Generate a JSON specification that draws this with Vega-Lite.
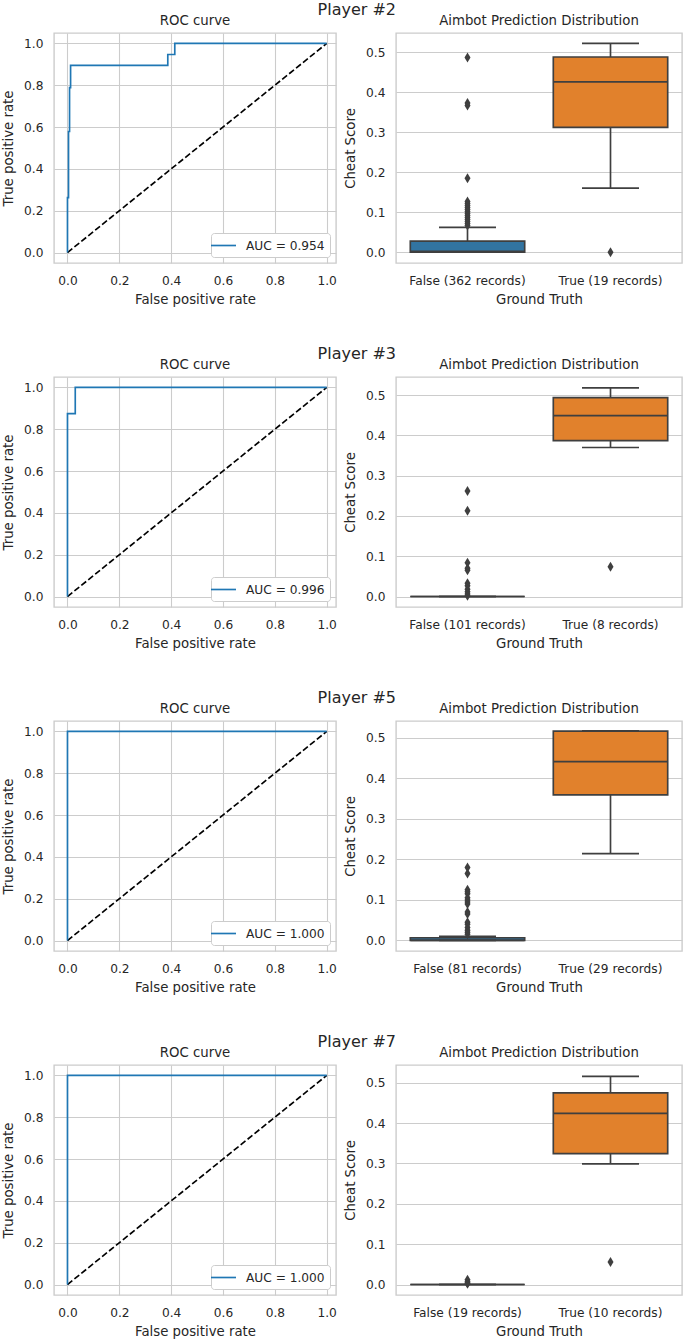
{
  "$schema": "https://vega.github.io/schema/vega-lite/v6.json",
  "background": "white",
  "padding": {"left": 0, "top": 2, "right": 0, "bottom": 0},
  "config": {
    "font": "DejaVu Sans",
    "view": {"stroke": "#cccccc", "strokeWidth": 1.4},
    "axis": {"labelFontSize": 12.2, "labelColor": "#262626", "titleFontSize": 13.3, "titleColor": "#262626", "titleFontWeight": "normal", "gridColor": "#cccccc", "gridWidth": 1.1, "domain": false, "ticks": false, "labelPadding": 11, "titlePadding": 8},
    "axisX": {"titlePadding": 6},
    "title": {"fontSize": 13.3, "fontWeight": "normal", "color": "#262626", "offset": 6},
    "legend": {"title": null, "orient": "bottom-right", "offset": 6, "fillColor": "white", "strokeColor": "#cccccc", "cornerRadius": 3, "padding": 5, "symbolType": "M-2,0L2,0", "symbolSize": 156, "symbolStrokeWidth": 1.67, "labelFontSize": 12.2, "labelColor": "#262626", "labelOffset": 15}
  },
  "datasets": {
    "diag": [{"fpr": 0, "tpr": 0}, {"fpr": 1, "tpr": 1}],
    "roc": [
      {"p": "2", "i": 0, "fpr": 0, "tpr": 0, "label": "AUC = 0.954"},
      {"p": "2", "i": 1, "fpr": 0, "tpr": 0.263, "label": "AUC = 0.954"},
      {"p": "2", "i": 2, "fpr": 0.004, "tpr": 0.263, "label": "AUC = 0.954"},
      {"p": "2", "i": 3, "fpr": 0.004, "tpr": 0.579, "label": "AUC = 0.954"},
      {"p": "2", "i": 4, "fpr": 0.008, "tpr": 0.579, "label": "AUC = 0.954"},
      {"p": "2", "i": 5, "fpr": 0.008, "tpr": 0.789, "label": "AUC = 0.954"},
      {"p": "2", "i": 6, "fpr": 0.012, "tpr": 0.789, "label": "AUC = 0.954"},
      {"p": "2", "i": 7, "fpr": 0.012, "tpr": 0.895, "label": "AUC = 0.954"},
      {"p": "2", "i": 8, "fpr": 0.387, "tpr": 0.895, "label": "AUC = 0.954"},
      {"p": "2", "i": 9, "fpr": 0.387, "tpr": 0.947, "label": "AUC = 0.954"},
      {"p": "2", "i": 10, "fpr": 0.414, "tpr": 0.947, "label": "AUC = 0.954"},
      {"p": "2", "i": 11, "fpr": 0.414, "tpr": 1.0, "label": "AUC = 0.954"},
      {"p": "2", "i": 12, "fpr": 1.0, "tpr": 1.0, "label": "AUC = 0.954"},
      {"p": "3", "i": 0, "fpr": 0, "tpr": 0, "label": "AUC = 0.996"},
      {"p": "3", "i": 1, "fpr": 0, "tpr": 0.875, "label": "AUC = 0.996"},
      {"p": "3", "i": 2, "fpr": 0.03, "tpr": 0.875, "label": "AUC = 0.996"},
      {"p": "3", "i": 3, "fpr": 0.03, "tpr": 1.0, "label": "AUC = 0.996"},
      {"p": "3", "i": 4, "fpr": 1.0, "tpr": 1.0, "label": "AUC = 0.996"},
      {"p": "5", "i": 0, "fpr": 0, "tpr": 0, "label": "AUC = 1.000"},
      {"p": "5", "i": 1, "fpr": 0, "tpr": 1.0, "label": "AUC = 1.000"},
      {"p": "5", "i": 2, "fpr": 1.0, "tpr": 1.0, "label": "AUC = 1.000"},
      {"p": "7", "i": 0, "fpr": 0, "tpr": 0, "label": "AUC = 1.000"},
      {"p": "7", "i": 1, "fpr": 0, "tpr": 1.0, "label": "AUC = 1.000"},
      {"p": "7", "i": 2, "fpr": 1.0, "tpr": 1.0, "label": "AUC = 1.000"}
    ],
    "box": [
      {"p": "2", "gt": "False", "xl": "False (362 records)", "lo": 0, "q1": 0, "med": 0.002, "q3": 0.0275, "hi": 0.062},
      {"p": "2", "gt": "True", "xl": "True (19 records)", "lo": 0.16, "q1": 0.312, "med": 0.426, "q3": 0.488, "hi": 0.522},
      {"p": "3", "gt": "False", "xl": "False (101 records)", "lo": 0, "q1": 0, "med": 0, "q3": 0, "hi": 0},
      {"p": "3", "gt": "True", "xl": "True (8 records)", "lo": 0.37, "q1": 0.387, "med": 0.449, "q3": 0.494, "hi": 0.518},
      {"p": "5", "gt": "False", "xl": "False (81 records)", "lo": 0, "q1": 0, "med": 0, "q3": 0.0066, "hi": 0.01},
      {"p": "5", "gt": "True", "xl": "True (29 records)", "lo": 0.214, "q1": 0.359, "med": 0.441, "q3": 0.516, "hi": 0.517},
      {"p": "7", "gt": "False", "xl": "False (19 records)", "lo": 0, "q1": 0, "med": 0, "q3": 0, "hi": 0},
      {"p": "7", "gt": "True", "xl": "True (10 records)", "lo": 0.299, "q1": 0.3245, "med": 0.424, "q3": 0.475, "hi": 0.516}
    ],
    "out": [
      {"p": "2", "xl": "False (362 records)", "v": 0.487},
      {"p": "2", "xl": "False (362 records)", "v": 0.373},
      {"p": "2", "xl": "False (362 records)", "v": 0.367},
      {"p": "2", "xl": "False (362 records)", "v": 0.185},
      {"p": "2", "xl": "False (362 records)", "v": 0.127},
      {"p": "2", "xl": "False (362 records)", "v": 0.122},
      {"p": "2", "xl": "False (362 records)", "v": 0.117},
      {"p": "2", "xl": "False (362 records)", "v": 0.112},
      {"p": "2", "xl": "False (362 records)", "v": 0.107},
      {"p": "2", "xl": "False (362 records)", "v": 0.102},
      {"p": "2", "xl": "False (362 records)", "v": 0.097},
      {"p": "2", "xl": "False (362 records)", "v": 0.092},
      {"p": "2", "xl": "False (362 records)", "v": 0.087},
      {"p": "2", "xl": "False (362 records)", "v": 0.082},
      {"p": "2", "xl": "False (362 records)", "v": 0.077},
      {"p": "2", "xl": "False (362 records)", "v": 0.072},
      {"p": "2", "xl": "False (362 records)", "v": 0.067},
      {"p": "2", "xl": "True (19 records)", "v": 0.0},
      {"p": "3", "xl": "False (101 records)", "v": 0.262},
      {"p": "3", "xl": "False (101 records)", "v": 0.213},
      {"p": "3", "xl": "False (101 records)", "v": 0.084},
      {"p": "3", "xl": "False (101 records)", "v": 0.07},
      {"p": "3", "xl": "False (101 records)", "v": 0.065},
      {"p": "3", "xl": "False (101 records)", "v": 0.033},
      {"p": "3", "xl": "False (101 records)", "v": 0.027},
      {"p": "3", "xl": "False (101 records)", "v": 0.018},
      {"p": "3", "xl": "False (101 records)", "v": 0.012},
      {"p": "3", "xl": "False (101 records)", "v": 0.006},
      {"p": "3", "xl": "False (101 records)", "v": 0.002},
      {"p": "3", "xl": "True (8 records)", "v": 0.074},
      {"p": "5", "xl": "False (81 records)", "v": 0.18},
      {"p": "5", "xl": "False (81 records)", "v": 0.165},
      {"p": "5", "xl": "False (81 records)", "v": 0.125},
      {"p": "5", "xl": "False (81 records)", "v": 0.12},
      {"p": "5", "xl": "False (81 records)", "v": 0.115},
      {"p": "5", "xl": "False (81 records)", "v": 0.105},
      {"p": "5", "xl": "False (81 records)", "v": 0.1},
      {"p": "5", "xl": "False (81 records)", "v": 0.095},
      {"p": "5", "xl": "False (81 records)", "v": 0.09},
      {"p": "5", "xl": "False (81 records)", "v": 0.07},
      {"p": "5", "xl": "False (81 records)", "v": 0.065},
      {"p": "5", "xl": "False (81 records)", "v": 0.045},
      {"p": "5", "xl": "False (81 records)", "v": 0.04},
      {"p": "5", "xl": "False (81 records)", "v": 0.032},
      {"p": "5", "xl": "False (81 records)", "v": 0.025},
      {"p": "5", "xl": "False (81 records)", "v": 0.02},
      {"p": "5", "xl": "False (81 records)", "v": 0.015},
      {"p": "7", "xl": "False (19 records)", "v": 0.012},
      {"p": "7", "xl": "False (19 records)", "v": 0.007},
      {"p": "7", "xl": "False (19 records)", "v": 0.004},
      {"p": "7", "xl": "False (19 records)", "v": 0.002},
      {"p": "7", "xl": "True (10 records)", "v": 0.056}
    ]
  },
  "spacing": 39,
  "resolve": {"scale": {"color": "independent"}, "legend": {"color": "independent"}},
  "vconcat": [
    {
      "title": {"text": "Player #2", "fontSize": 16, "anchor": "middle", "offset": -5, "dx": 15},
      "spacing": 4,
      "resolve": {"scale": {"color": "independent"}, "legend": {"color": "independent"}},
      "hconcat": [
        {
          "width": 282, "height": 230, "title": "ROC curve",
          "layer": [
            {"data": {"name": "diag"}, "mark": {"type": "line", "color": "black", "strokeDash": [6.2, 2.7], "strokeWidth": 1.67},
             "encoding": {
               "x": {"field": "fpr", "type": "quantitative", "scale": {"domain": [-0.052, 1.036], "nice": false, "zero": false}, "axis": {"values": [0, 0.2, 0.4, 0.6, 0.8, 1], "format": ".1f"}, "title": "False positive rate"},
               "y": {"field": "tpr", "type": "quantitative", "scale": {"domain": [-0.05, 1.05], "nice": false, "zero": false}, "axis": {"values": [0, 0.2, 0.4, 0.6, 0.8, 1], "format": ".1f"}, "title": "True positive rate"}}},
            {"data": {"name": "roc"}, "transform": [{"filter": "datum.p == '2'"}], "mark": {"type": "line", "strokeWidth": 1.67},
             "encoding": {"x": {"field": "fpr", "type": "quantitative"}, "y": {"field": "tpr", "type": "quantitative"}, "order": {"field": "i"},
               "color": {"field": "label", "type": "nominal", "scale": {"range": ["#1f77b4"]}}}}
          ]
        },
        {
          "width": 286, "height": 230, "title": "Aimbot Prediction Distribution",
          "layer": [
            {"data": {"name": "box"}, "transform": [{"filter": "datum.p == '2'"}], "mark": {"type": "rule", "color": "#3f3f3f", "strokeWidth": 1.67},
             "encoding": {
               "x": {"field": "xl", "type": "nominal", "scale": {"paddingInner": 0, "paddingOuter": 0}, "axis": {"labelAngle": 0, "grid": false}, "title": "Ground Truth"},
               "y": {"field": "lo", "type": "quantitative", "scale": {"domain": [-0.027, 0.548], "nice": false, "zero": false}, "axis": {"values": [0, 0.1, 0.2, 0.3, 0.4, 0.5], "format": ".1f"}, "title": "Cheat Score"},
               "y2": {"field": "q1"}}},
            {"data": {"name": "box"}, "transform": [{"filter": "datum.p == '2'"}], "mark": {"type": "rule", "color": "#3f3f3f", "strokeWidth": 1.67},
             "encoding": {"x": {"field": "xl", "type": "nominal"}, "y": {"field": "q3", "type": "quantitative"}, "y2": {"field": "hi"}}},
            {"data": {"name": "box"}, "transform": [{"filter": "datum.p == '2'"}], "mark": {"type": "bar", "width": {"band": 0.8}, "stroke": "#3f3f3f", "strokeWidth": 1.67, "opacity": 1},
             "encoding": {"x": {"field": "xl", "type": "nominal"}, "y": {"field": "q1", "type": "quantitative"}, "y2": {"field": "q3"},
               "color": {"field": "gt", "type": "nominal", "scale": {"domain": ["False", "True"], "range": ["#3274a1", "#e1812c"]}, "legend": null}}},
            {"data": {"name": "box"}, "transform": [{"filter": "datum.p == '2'"}], "mark": {"type": "tick", "color": "#3f3f3f", "size": 114, "thickness": 1.67, "opacity": 1},
             "encoding": {"x": {"field": "xl", "type": "nominal"}, "y": {"field": "med", "type": "quantitative"}}},
            {"data": {"name": "box"}, "transform": [{"filter": "datum.p == '2'"}], "mark": {"type": "tick", "color": "#3f3f3f", "size": 57, "thickness": 1.67, "opacity": 1},
             "encoding": {"x": {"field": "xl", "type": "nominal"}, "y": {"field": "lo", "type": "quantitative"}}},
            {"data": {"name": "box"}, "transform": [{"filter": "datum.p == '2'"}], "mark": {"type": "tick", "color": "#3f3f3f", "size": 57, "thickness": 1.67, "opacity": 1},
             "encoding": {"x": {"field": "xl", "type": "nominal"}, "y": {"field": "hi", "type": "quantitative"}}},
            {"data": {"name": "out"}, "transform": [{"filter": "datum.p == '2'"}], "mark": {"type": "point", "shape": "M0,-1L0.6,0L0,1L-0.6,0Z", "filled": true, "color": "#3f3f3f", "size": 100, "opacity": 1},
             "encoding": {"x": {"field": "xl", "type": "nominal"}, "y": {"field": "v", "type": "quantitative"}}}
          ]
        }
      ]
    },
    {
      "title": {"text": "Player #3", "fontSize": 16, "anchor": "middle", "offset": -5, "dx": 15},
      "spacing": 4,
      "resolve": {"scale": {"color": "independent"}, "legend": {"color": "independent"}},
      "hconcat": [
        {
          "width": 282, "height": 230, "title": "ROC curve",
          "layer": [
            {"data": {"name": "diag"}, "mark": {"type": "line", "color": "black", "strokeDash": [6.2, 2.7], "strokeWidth": 1.67},
             "encoding": {
               "x": {"field": "fpr", "type": "quantitative", "scale": {"domain": [-0.052, 1.036], "nice": false, "zero": false}, "axis": {"values": [0, 0.2, 0.4, 0.6, 0.8, 1], "format": ".1f"}, "title": "False positive rate"},
               "y": {"field": "tpr", "type": "quantitative", "scale": {"domain": [-0.05, 1.05], "nice": false, "zero": false}, "axis": {"values": [0, 0.2, 0.4, 0.6, 0.8, 1], "format": ".1f"}, "title": "True positive rate"}}},
            {"data": {"name": "roc"}, "transform": [{"filter": "datum.p == '3'"}], "mark": {"type": "line", "strokeWidth": 1.67},
             "encoding": {"x": {"field": "fpr", "type": "quantitative"}, "y": {"field": "tpr", "type": "quantitative"}, "order": {"field": "i"},
               "color": {"field": "label", "type": "nominal", "scale": {"range": ["#1f77b4"]}}}}
          ]
        },
        {
          "width": 286, "height": 230, "title": "Aimbot Prediction Distribution",
          "layer": [
            {"data": {"name": "box"}, "transform": [{"filter": "datum.p == '3'"}], "mark": {"type": "rule", "color": "#3f3f3f", "strokeWidth": 1.67},
             "encoding": {
               "x": {"field": "xl", "type": "nominal", "scale": {"paddingInner": 0, "paddingOuter": 0}, "axis": {"labelAngle": 0, "grid": false}, "title": "Ground Truth"},
               "y": {"field": "lo", "type": "quantitative", "scale": {"domain": [-0.026, 0.545], "nice": false, "zero": false}, "axis": {"values": [0, 0.1, 0.2, 0.3, 0.4, 0.5], "format": ".1f"}, "title": "Cheat Score"},
               "y2": {"field": "q1"}}},
            {"data": {"name": "box"}, "transform": [{"filter": "datum.p == '3'"}], "mark": {"type": "rule", "color": "#3f3f3f", "strokeWidth": 1.67},
             "encoding": {"x": {"field": "xl", "type": "nominal"}, "y": {"field": "q3", "type": "quantitative"}, "y2": {"field": "hi"}}},
            {"data": {"name": "box"}, "transform": [{"filter": "datum.p == '3'"}], "mark": {"type": "bar", "width": {"band": 0.8}, "stroke": "#3f3f3f", "strokeWidth": 1.67, "opacity": 1},
             "encoding": {"x": {"field": "xl", "type": "nominal"}, "y": {"field": "q1", "type": "quantitative"}, "y2": {"field": "q3"},
               "color": {"field": "gt", "type": "nominal", "scale": {"domain": ["False", "True"], "range": ["#3274a1", "#e1812c"]}, "legend": null}}},
            {"data": {"name": "box"}, "transform": [{"filter": "datum.p == '3'"}], "mark": {"type": "tick", "color": "#3f3f3f", "size": 114, "thickness": 1.67, "opacity": 1},
             "encoding": {"x": {"field": "xl", "type": "nominal"}, "y": {"field": "med", "type": "quantitative"}}},
            {"data": {"name": "box"}, "transform": [{"filter": "datum.p == '3'"}], "mark": {"type": "tick", "color": "#3f3f3f", "size": 57, "thickness": 1.67, "opacity": 1},
             "encoding": {"x": {"field": "xl", "type": "nominal"}, "y": {"field": "lo", "type": "quantitative"}}},
            {"data": {"name": "box"}, "transform": [{"filter": "datum.p == '3'"}], "mark": {"type": "tick", "color": "#3f3f3f", "size": 57, "thickness": 1.67, "opacity": 1},
             "encoding": {"x": {"field": "xl", "type": "nominal"}, "y": {"field": "hi", "type": "quantitative"}}},
            {"data": {"name": "out"}, "transform": [{"filter": "datum.p == '3'"}], "mark": {"type": "point", "shape": "M0,-1L0.6,0L0,1L-0.6,0Z", "filled": true, "color": "#3f3f3f", "size": 100, "opacity": 1},
             "encoding": {"x": {"field": "xl", "type": "nominal"}, "y": {"field": "v", "type": "quantitative"}}}
          ]
        }
      ]
    },
    {
      "title": {"text": "Player #5", "fontSize": 16, "anchor": "middle", "offset": -5, "dx": 15},
      "spacing": 4,
      "resolve": {"scale": {"color": "independent"}, "legend": {"color": "independent"}},
      "hconcat": [
        {
          "width": 282, "height": 230, "title": "ROC curve",
          "layer": [
            {"data": {"name": "diag"}, "mark": {"type": "line", "color": "black", "strokeDash": [6.2, 2.7], "strokeWidth": 1.67},
             "encoding": {
               "x": {"field": "fpr", "type": "quantitative", "scale": {"domain": [-0.052, 1.036], "nice": false, "zero": false}, "axis": {"values": [0, 0.2, 0.4, 0.6, 0.8, 1], "format": ".1f"}, "title": "False positive rate"},
               "y": {"field": "tpr", "type": "quantitative", "scale": {"domain": [-0.05, 1.05], "nice": false, "zero": false}, "axis": {"values": [0, 0.2, 0.4, 0.6, 0.8, 1], "format": ".1f"}, "title": "True positive rate"}}},
            {"data": {"name": "roc"}, "transform": [{"filter": "datum.p == '5'"}], "mark": {"type": "line", "strokeWidth": 1.67},
             "encoding": {"x": {"field": "fpr", "type": "quantitative"}, "y": {"field": "tpr", "type": "quantitative"}, "order": {"field": "i"},
               "color": {"field": "label", "type": "nominal", "scale": {"range": ["#1f77b4"]}}}}
          ]
        },
        {
          "width": 286, "height": 230, "title": "Aimbot Prediction Distribution",
          "layer": [
            {"data": {"name": "box"}, "transform": [{"filter": "datum.p == '5'"}], "mark": {"type": "rule", "color": "#3f3f3f", "strokeWidth": 1.67},
             "encoding": {
               "x": {"field": "xl", "type": "nominal", "scale": {"paddingInner": 0, "paddingOuter": 0}, "axis": {"labelAngle": 0, "grid": false}, "title": "Ground Truth"},
               "y": {"field": "lo", "type": "quantitative", "scale": {"domain": [-0.026, 0.541], "nice": false, "zero": false}, "axis": {"values": [0, 0.1, 0.2, 0.3, 0.4, 0.5], "format": ".1f"}, "title": "Cheat Score"},
               "y2": {"field": "q1"}}},
            {"data": {"name": "box"}, "transform": [{"filter": "datum.p == '5'"}], "mark": {"type": "rule", "color": "#3f3f3f", "strokeWidth": 1.67},
             "encoding": {"x": {"field": "xl", "type": "nominal"}, "y": {"field": "q3", "type": "quantitative"}, "y2": {"field": "hi"}}},
            {"data": {"name": "box"}, "transform": [{"filter": "datum.p == '5'"}], "mark": {"type": "bar", "width": {"band": 0.8}, "stroke": "#3f3f3f", "strokeWidth": 1.67, "opacity": 1},
             "encoding": {"x": {"field": "xl", "type": "nominal"}, "y": {"field": "q1", "type": "quantitative"}, "y2": {"field": "q3"},
               "color": {"field": "gt", "type": "nominal", "scale": {"domain": ["False", "True"], "range": ["#3274a1", "#e1812c"]}, "legend": null}}},
            {"data": {"name": "box"}, "transform": [{"filter": "datum.p == '5'"}], "mark": {"type": "tick", "color": "#3f3f3f", "size": 114, "thickness": 1.67, "opacity": 1},
             "encoding": {"x": {"field": "xl", "type": "nominal"}, "y": {"field": "med", "type": "quantitative"}}},
            {"data": {"name": "box"}, "transform": [{"filter": "datum.p == '5'"}], "mark": {"type": "tick", "color": "#3f3f3f", "size": 57, "thickness": 1.67, "opacity": 1},
             "encoding": {"x": {"field": "xl", "type": "nominal"}, "y": {"field": "lo", "type": "quantitative"}}},
            {"data": {"name": "box"}, "transform": [{"filter": "datum.p == '5'"}], "mark": {"type": "tick", "color": "#3f3f3f", "size": 57, "thickness": 1.67, "opacity": 1},
             "encoding": {"x": {"field": "xl", "type": "nominal"}, "y": {"field": "hi", "type": "quantitative"}}},
            {"data": {"name": "out"}, "transform": [{"filter": "datum.p == '5'"}], "mark": {"type": "point", "shape": "M0,-1L0.6,0L0,1L-0.6,0Z", "filled": true, "color": "#3f3f3f", "size": 100, "opacity": 1},
             "encoding": {"x": {"field": "xl", "type": "nominal"}, "y": {"field": "v", "type": "quantitative"}}}
          ]
        }
      ]
    },
    {
      "title": {"text": "Player #7", "fontSize": 16, "anchor": "middle", "offset": -5, "dx": 15},
      "spacing": 4,
      "resolve": {"scale": {"color": "independent"}, "legend": {"color": "independent"}},
      "hconcat": [
        {
          "width": 282, "height": 230, "title": "ROC curve",
          "layer": [
            {"data": {"name": "diag"}, "mark": {"type": "line", "color": "black", "strokeDash": [6.2, 2.7], "strokeWidth": 1.67},
             "encoding": {
               "x": {"field": "fpr", "type": "quantitative", "scale": {"domain": [-0.052, 1.036], "nice": false, "zero": false}, "axis": {"values": [0, 0.2, 0.4, 0.6, 0.8, 1], "format": ".1f"}, "title": "False positive rate"},
               "y": {"field": "tpr", "type": "quantitative", "scale": {"domain": [-0.05, 1.05], "nice": false, "zero": false}, "axis": {"values": [0, 0.2, 0.4, 0.6, 0.8, 1], "format": ".1f"}, "title": "True positive rate"}}},
            {"data": {"name": "roc"}, "transform": [{"filter": "datum.p == '7'"}], "mark": {"type": "line", "strokeWidth": 1.67},
             "encoding": {"x": {"field": "fpr", "type": "quantitative"}, "y": {"field": "tpr", "type": "quantitative"}, "order": {"field": "i"},
               "color": {"field": "label", "type": "nominal", "scale": {"range": ["#1f77b4"]}}}}
          ]
        },
        {
          "width": 286, "height": 230, "title": "Aimbot Prediction Distribution",
          "layer": [
            {"data": {"name": "box"}, "transform": [{"filter": "datum.p == '7'"}], "mark": {"type": "rule", "color": "#3f3f3f", "strokeWidth": 1.67},
             "encoding": {
               "x": {"field": "xl", "type": "nominal", "scale": {"paddingInner": 0, "paddingOuter": 0}, "axis": {"labelAngle": 0, "grid": false}, "title": "Ground Truth"},
               "y": {"field": "lo", "type": "quantitative", "scale": {"domain": [-0.026, 0.544], "nice": false, "zero": false}, "axis": {"values": [0, 0.1, 0.2, 0.3, 0.4, 0.5], "format": ".1f"}, "title": "Cheat Score"},
               "y2": {"field": "q1"}}},
            {"data": {"name": "box"}, "transform": [{"filter": "datum.p == '7'"}], "mark": {"type": "rule", "color": "#3f3f3f", "strokeWidth": 1.67},
             "encoding": {"x": {"field": "xl", "type": "nominal"}, "y": {"field": "q3", "type": "quantitative"}, "y2": {"field": "hi"}}},
            {"data": {"name": "box"}, "transform": [{"filter": "datum.p == '7'"}], "mark": {"type": "bar", "width": {"band": 0.8}, "stroke": "#3f3f3f", "strokeWidth": 1.67, "opacity": 1},
             "encoding": {"x": {"field": "xl", "type": "nominal"}, "y": {"field": "q1", "type": "quantitative"}, "y2": {"field": "q3"},
               "color": {"field": "gt", "type": "nominal", "scale": {"domain": ["False", "True"], "range": ["#3274a1", "#e1812c"]}, "legend": null}}},
            {"data": {"name": "box"}, "transform": [{"filter": "datum.p == '7'"}], "mark": {"type": "tick", "color": "#3f3f3f", "size": 114, "thickness": 1.67, "opacity": 1},
             "encoding": {"x": {"field": "xl", "type": "nominal"}, "y": {"field": "med", "type": "quantitative"}}},
            {"data": {"name": "box"}, "transform": [{"filter": "datum.p == '7'"}], "mark": {"type": "tick", "color": "#3f3f3f", "size": 57, "thickness": 1.67, "opacity": 1},
             "encoding": {"x": {"field": "xl", "type": "nominal"}, "y": {"field": "lo", "type": "quantitative"}}},
            {"data": {"name": "box"}, "transform": [{"filter": "datum.p == '7'"}], "mark": {"type": "tick", "color": "#3f3f3f", "size": 57, "thickness": 1.67, "opacity": 1},
             "encoding": {"x": {"field": "xl", "type": "nominal"}, "y": {"field": "hi", "type": "quantitative"}}},
            {"data": {"name": "out"}, "transform": [{"filter": "datum.p == '7'"}], "mark": {"type": "point", "shape": "M0,-1L0.6,0L0,1L-0.6,0Z", "filled": true, "color": "#3f3f3f", "size": 100, "opacity": 1},
             "encoding": {"x": {"field": "xl", "type": "nominal"}, "y": {"field": "v", "type": "quantitative"}}}
          ]
        }
      ]
    }
  ]
}
